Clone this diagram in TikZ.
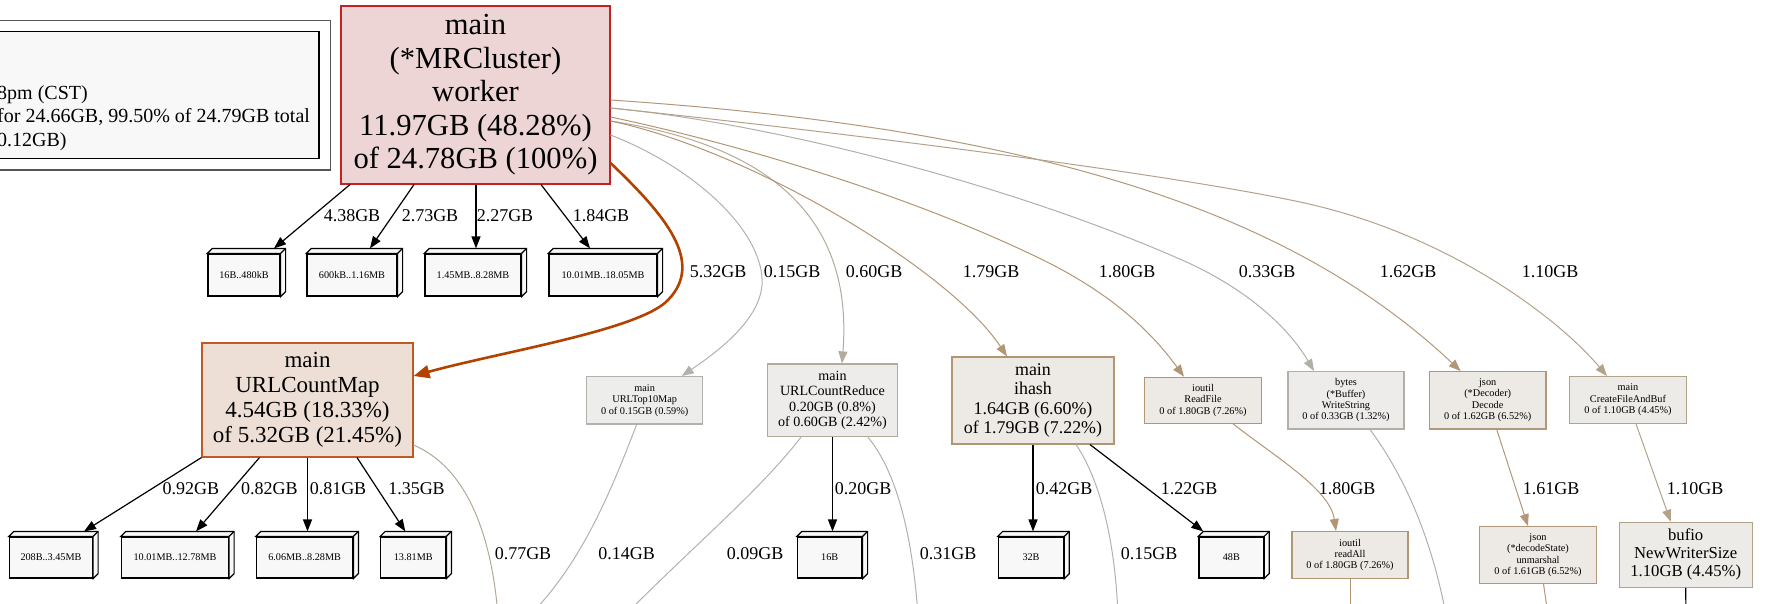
\documentclass[tikz,border=0pt]{standalone}
\usepackage{fontspec}
\setmainfont{Liberation Serif}
\usetikzlibrary{arrows.meta}

% node fills and outlines (hot = red, cold = grey)
\definecolor{hotfill}{HTML}{EDD5D5}\definecolor{hotline}{HTML}{C42222}
\definecolor{mapfill}{HTML}{EDDFD5}\definecolor{mapline}{HTML}{B24200}
\definecolor{mapedge}{HTML}{C05A25}
\definecolor{topfill}{HTML}{EDEDEC}\definecolor{topline}{HTML}{B2B1AD}
\definecolor{redfill}{HTML}{EDECEA}\definecolor{redline}{HTML}{B2AB9C}
\definecolor{hashfill}{HTML}{EDE9E4}\definecolor{hashline}{HTML}{B29572}
\definecolor{wrfill}{HTML}{EDECEB}\definecolor{wrline}{HTML}{B2AFA6}
\definecolor{decfill}{HTML}{EDE9E5}\definecolor{decline}{HTML}{B29878}
\definecolor{buffill}{HTML}{EDEBE7}\definecolor{bufline}{HTML}{B2A28A}
\definecolor{tagfill}{HTML}{F8F8F8}
\definecolor{legfill}{HTML}{F8F8F8}\definecolor{legline}{HTML}{555555}
% edge colours
\definecolor{gA}{HTML}{B2A896}
\definecolor{gB}{HTML}{B2B1AF}
\definecolor{gC}{HTML}{B2AFA7}

\newcommand{\fsMain}{\fontsize{30.6pt}{33.5pt}\selectfont}
\newcommand{\fsMap}{\fontsize{23pt}{25.2pt}\selectfont}
\newcommand{\fsHash}{\fontsize{17.9pt}{19.2pt}\selectfont}
\newcommand{\fsBuf}{\fontsize{16.7pt}{18pt}\selectfont}
\newcommand{\fsReduce}{\fontsize{14.1pt}{15.3pt}\selectfont}
\newcommand{\fsSmall}{\fontsize{10.3pt}{11.4pt}\selectfont}
\newcommand{\fsTag}{\fontsize{10.2pt}{11pt}\selectfont}
\newcommand{\fsEdge}{\fontsize{18pt}{20pt}\selectfont}
\newcommand{\fsLegend}{\fontsize{20pt}{23.5pt}\selectfont}

% top and right faces of a 3-D tag box
\newcommand{\boxdepth}[1]{%
  \filldraw[tagface] (#1.north west) -- ++(5,-5) -- ([xshift=5pt,yshift=5pt]#1.north east)
    -- ([xshift=5pt,yshift=5pt]#1.south east) -- (#1.south east) -- (#1.north east) -- cycle;
  \draw[tagface] (#1.north east) -- ++(5,-5);}

\begin{document}
\begin{tikzpicture}[x=1pt, y=-1pt,
  fn/.style={draw, line width=1.1pt, align=center, inner sep=0pt},
  tag/.style={draw=black, fill=tagfill, line width=1.2pt, inner sep=0pt, font=\fsTag},
  tagface/.style={draw=black, fill=tagfill, line width=1.2pt, line join=miter},
  lbl/.style={font=\fsEdge, inner sep=0pt},
  arrowhd/.style={-{Triangle[length=12pt,width=9pt]}},
  tagedge/.style={arrowhd, line width=1.2pt, draw=black},
  flow/.style={arrowhd, line width=1pt},
  trail/.style={line width=1pt},
]
\clip (0,0) rectangle (1770,603);

% legend
\node[draw=black, fill=legfill, line width=1.2pt, minimum width=328pt, minimum height=126.6pt, inner sep=0pt] (legend) at (155,95) {};
\draw[draw=legline, line width=1.2pt] ([xshift=-11pt,yshift=11pt]legend.north west) rectangle ([xshift=11pt,yshift=-11pt]legend.south east);
\node[font=\fsLegend, align=left, anchor=west, inner sep=0pt] (legtext) at (-3,118) {8pm (CST)\\for 24.66GB, 99.50\% of 24.79GB total\\0.12GB)};

% function nodes
\node[fn, fill=hotfill, draw=hotline, minimum width=269pt, minimum height=178pt, font=\fsMain] (main) at (475.5,95)
  {main\\(*MRCluster)\\worker\\11.97GB (48.28\%)\\of 24.78GB (100\%)};
\node[fn, fill=mapfill, draw=mapedge, minimum width=211pt, minimum height=114pt, font=\fsMap] (ucm) at (307.5,400)
  {main\\URLCountMap\\4.54GB (18.33\%)\\of 5.32GB (21.45\%)};
\node[fn, fill=topfill, draw=topline, minimum width=116pt, minimum height=47.3pt, font=\fsSmall] (top10) at (644.7,400.3)
  {main\\URLTop10Map\\0 of 0.15GB (0.59\%)};
\node[fn, fill=redfill, draw=redline, minimum width=130.4pt, minimum height=72.7pt, font=\fsReduce] (ureduce) at (832.5,400.3)
  {main\\URLCountReduce\\0.20GB (0.8\%)\\of 0.60GB (2.42\%)};
\node[fn, fill=hashfill, draw=hashline, minimum width=162pt, minimum height=87pt, font=\fsHash] (ihash) at (1033,400.5)
  {main\\ihash\\1.64GB (6.60\%)\\of 1.79GB (7.22\%)};
\node[fn, fill=hashfill, draw=hashline, minimum width=116.7pt, minimum height=46pt, font=\fsSmall] (readfile) at (1203,400.3)
  {ioutil\\ReadFile\\0 of 1.80GB (7.26\%)};
\node[fn, fill=wrfill, draw=wrline, minimum width=116pt, minimum height=57.3pt, font=\fsSmall] (wstring) at (1346,400.3)
  {bytes\\(*Buffer)\\WriteString\\0 of 0.33GB (1.32\%)};
\node[fn, fill=decfill, draw=decline, minimum width=116.6pt, minimum height=57.3pt, font=\fsSmall] (decode) at (1487.7,400.3)
  {json\\(*Decoder)\\Decode\\0 of 1.62GB (6.52\%)};
\node[fn, fill=buffill, draw=bufline, minimum width=116.6pt, minimum height=46.7pt, font=\fsSmall] (create) at (1628,400)
  {main\\CreateFileAndBuf\\0 of 1.10GB (4.45\%)};
\node[fn, fill=hashfill, draw=hashline, minimum width=116pt, minimum height=47pt, font=\fsSmall] (readall) at (1350,555)
  {ioutil\\readAll\\0 of 1.80GB (7.26\%)};
\node[fn, fill=decfill, draw=decline, minimum width=116.2pt, minimum height=56.7pt, font=\fsSmall] (unmarshal) at (1538,555)
  {json\\(*decodeState)\\unmarshal\\0 of 1.61GB (6.52\%)};
\node[fn, fill=buffill, draw=bufline, minimum width=133pt, minimum height=65pt, font=\fsBuf] (bufio) at (1685.7,554.8)
  {bufio\\NewWriterSize\\1.10GB (4.45\%)};

% allocation size tags
\node[tag, minimum width=72pt, minimum height=42pt] (t1) at (244,275) {16B..480kB};\boxdepth{t1}
\node[tag, minimum width=90pt, minimum height=42pt] (t2) at (352,275) {600kB..1.16MB};\boxdepth{t2}
\node[tag, minimum width=96pt, minimum height=42pt] (t3) at (473,275) {1.45MB..8.28MB};\boxdepth{t3}
\node[tag, minimum width=108pt, minimum height=42pt] (t4) at (603,275) {10.01MB..18.05MB};\boxdepth{t4}
\node[tag, minimum width=83pt, minimum height=41pt] (u1) at (51,557.5) {208B..3.45MB};\boxdepth{u1}
\node[tag, minimum width=107pt, minimum height=41pt] (u2) at (175,557.5) {10.01MB..12.78MB};\boxdepth{u2}
\node[tag, minimum width=96.4pt, minimum height=41pt] (u3) at (304.6,557.5) {6.06MB..8.28MB};\boxdepth{u3}
\node[tag, minimum width=65pt, minimum height=41pt] (u4) at (413.3,557.5) {13.81MB};\boxdepth{u4}
\node[tag, minimum width=64.6pt, minimum height=41pt] (v1) at (829.7,557.5) {16B};\boxdepth{v1}
\node[tag, minimum width=65.4pt, minimum height=41pt] (v2) at (1031,557.5) {32B};\boxdepth{v2}
\node[tag, minimum width=64.6pt, minimum height=41pt] (v3) at (1231.3,557.5) {48B};\boxdepth{v3}

% callees below the visible area
\coordinate (x077) at (498,615);
\coordinate (x014) at (530,615);
\coordinate (x009) at (625,615);
\coordinate (x031) at (918,615);
\coordinate (x015) at (1118,615);
\coordinate (xwr) at (1446,615);
\coordinate (xra) at (1350,615);
\coordinate (xum) at (1548,615);
\coordinate (xbuf) at (1686,615);

% tag edges
\draw[tagedge] ([xshift=-125.5pt]main.south) -- ([xshift=30pt,yshift=5pt]t1.north);
\draw[tagedge] ([xshift=-61.5pt]main.south) -- ([xshift=18pt,yshift=5pt]t2.north);
\draw[tagedge] ([xshift=0.5pt]main.south) -- ([xshift=3pt,yshift=5pt]t3.north);
\draw[tagedge] ([xshift=65.5pt]main.south) -- ([xshift=-13pt,yshift=5pt]t4.north);
\draw[tagedge] (ucm.south west) -- ([xshift=33pt,yshift=5pt]u1.north);
\draw[tagedge] ([xshift=-48pt]ucm.south) -- ([xshift=21pt,yshift=5pt]u2.north);
\draw[tagedge] (ucm.south) -- ([xshift=2.9pt,yshift=5pt]u3.north);
\draw[tagedge] ([xshift=49.5pt]ucm.south) -- ([xshift=-8pt,yshift=5pt]u4.north);
\draw[tagedge] (ureduce.south) -- ([xshift=2.8pt,yshift=5pt]v1.north);
\draw[tagedge] (ihash.south) -- ([xshift=2pt,yshift=5pt]v2.north);
\draw[tagedge] ([xshift=57pt]ihash.south) -- ([xshift=-28pt,yshift=5pt]v3.north);
\draw[line width=1.2pt] (bufio.south) -- (xbuf);

% heavy call edge
\draw[line width=2.6pt, draw=mapline, -{Triangle[length=16pt,width=13pt]}]
  ([yshift=-68pt]main.east) .. controls (665,215) and (705,262) .. (668,300)
  .. controls (640,330) and (500,352) .. ([yshift=24pt]ucm.east);

% calls out of worker
\draw[flow, draw=topline] ([yshift=-40pt]main.east) .. controls (700,170) and (765,235) .. (762,285)
  .. controls (759,320) and (720,350) .. ([xshift=37pt]top10.north);
\draw[flow, draw=redline] ([yshift=-26pt]main.east) .. controls (745,142) and (855,200) .. ([xshift=9.5pt]ureduce.north);
\draw[flow, draw=hashline] ([yshift=-26pt]main.east) .. controls (750,150) and (950,270) .. ([xshift=-26pt]ihash.north);
\draw[flow, draw=hashline] ([yshift=-22pt]main.east) .. controls (720,140) and (900,190) .. (1043,260)
  .. controls (1110,293) and (1150,330) .. ([xshift=-19pt]readfile.north);
\draw[flow, draw=wrline] ([yshift=-13pt]main.east) .. controls (760,122) and (1000,180) .. (1182,260)
  .. controls (1250,290) and (1290,330) .. ([xshift=-32pt]wstring.north);
\draw[flow, draw=decline] ([yshift=-5pt]main.east) .. controls (1060,130) and (1300,220) .. ([xshift=-27pt]decode.north);
\draw[flow, draw=bufline] ([yshift=-13pt]main.east) .. controls (800,128) and (1150,170) .. (1300,202)
  .. controls (1450,234) and (1560,320) .. ([xshift=-21pt]create.north);

% second level calls
\draw[trail, draw=gA] ([yshift=-45pt]ucm.east) .. controls (460,465) and (490,520) .. (x077);
\draw[trail, draw=topline] ([xshift=-8pt]top10.south) .. controls (615,480) and (585,560) .. (x014);
\draw[trail, draw=gB] ([xshift=-31.5pt]ureduce.south) .. controls (760,490) and (700,540) .. (x009);
\draw[trail, draw=gC] ([xshift=35.5pt]ureduce.south) .. controls (895,470) and (912,530) .. (x031);
\draw[trail, draw=topline] ([xshift=43pt]ihash.south) .. controls (1100,480) and (1115,540) .. (x015);
\draw[flow, draw=hashline] ([xshift=30pt]readfile.south) .. controls (1280,460) and (1330,490) .. ([xshift=-14pt]readall.north);
\draw[trail, draw=wrline] ([xshift=24pt]wstring.south) .. controls (1400,470) and (1430,530) .. (xwr);
\draw[flow, draw=decline] ([xshift=9pt]decode.south) -- ([xshift=-10pt]unmarshal.north);
\draw[flow, draw=bufline] ([xshift=8pt]create.south) -- ([xshift=-15pt]bufio.north);
\draw[trail, draw=hashline] (readall.south) -- (xra);
\draw[trail, draw=decline] ([xshift=5.5pt]unmarshal.south) -- (xum);

% edge labels
\node[lbl] (l438) at (352,216) {4.38GB};
\node[lbl] (l273) at (430,216) {2.73GB};
\node[lbl] (l227) at (505,216) {2.27GB};
\node[lbl] (l184) at (601,216) {1.84GB};
\node[lbl] (l532) at (718,272) {5.32GB};
\node[lbl] (l015a) at (792,272) {0.15GB};
\node[lbl] (l060) at (874,272) {0.60GB};
\node[lbl] (l179) at (991,272) {1.79GB};
\node[lbl] (l180a) at (1127,272) {1.80GB};
\node[lbl] (l033) at (1267,272) {0.33GB};
\node[lbl] (l162) at (1408,272) {1.62GB};
\node[lbl] (l110a) at (1550,272) {1.10GB};
\node[lbl] (l092) at (191,489) {0.92GB};
\node[lbl] (l082) at (269.5,489) {0.82GB};
\node[lbl] (l081) at (338,489) {0.81GB};
\node[lbl] (l135) at (416.5,489) {1.35GB};
\node[lbl] (l020) at (863,489) {0.20GB};
\node[lbl] (l042) at (1064,489) {0.42GB};
\node[lbl] (l122) at (1189,489) {1.22GB};
\node[lbl] (l180b) at (1347,489) {1.80GB};
\node[lbl] (l161) at (1551,489) {1.61GB};
\node[lbl] (l110b) at (1695,489) {1.10GB};
\node[lbl] (l077) at (523,554) {0.77GB};
\node[lbl] (l014) at (626.5,554) {0.14GB};
\node[lbl] (l009) at (755,554) {0.09GB};
\node[lbl] (l031) at (948,554) {0.31GB};
\node[lbl] (l015b) at (1149,554) {0.15GB};
\end{tikzpicture}
\end{document}
